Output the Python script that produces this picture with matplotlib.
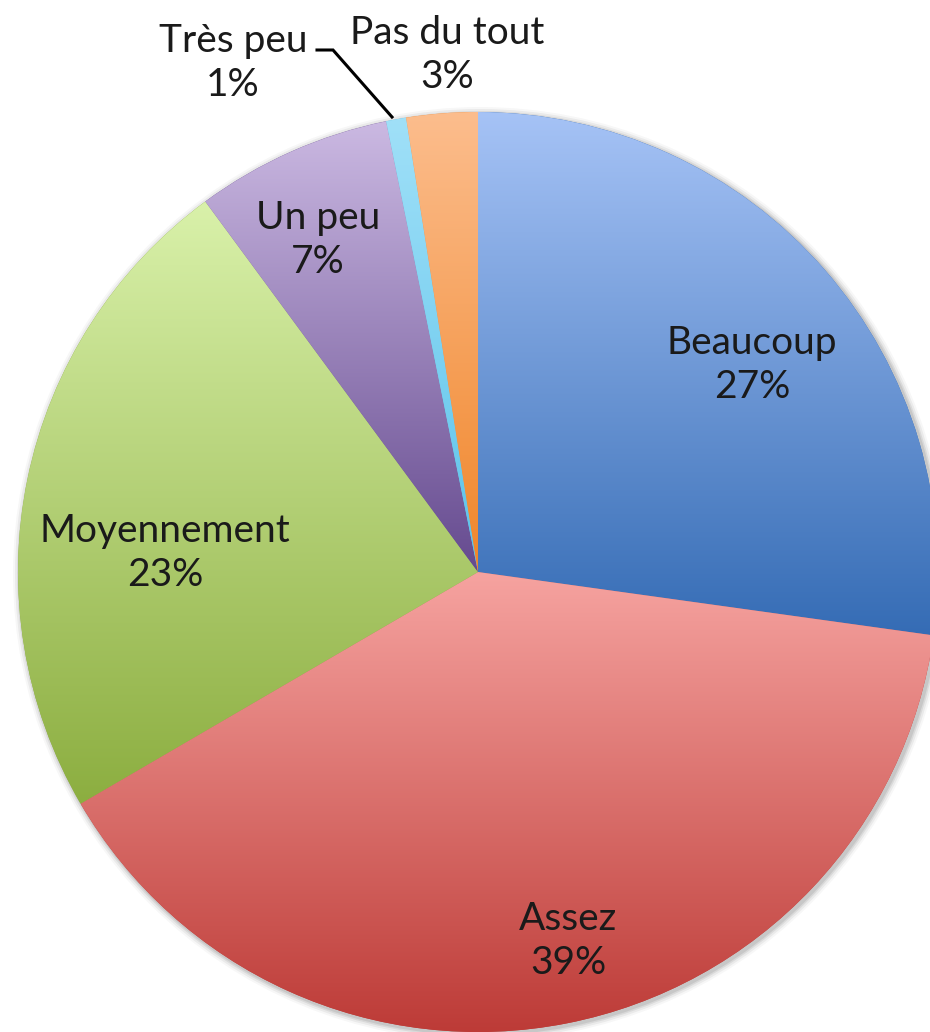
import matplotlib.pyplot as plt
import numpy as np
from matplotlib.colors import LinearSegmentedColormap
from matplotlib.patches import Circle

categories = ["Beaucoup", "Assez", "Moyennement", "Un peu", "Très peu", "Pas du tout"]
values = [27.2, 39.4, 23.3, 6.9, 0.7, 2.5]
pct_labels = ["27%", "39%", "23%", "7%", "1%", "3%"]

# gradient colours (top, bottom) for each slice
top_colors = ["#a6c3f6", "#f6a3a0", "#d9f1aa", "#cbb9e2", "#a0e0f8", "#fcbd8d"]
bottom_colors = ["#356cb5", "#bd3b37", "#8cae40", "#654a8f", "#5cc3ea", "#f0862a"]

# layout, in pixels (image coordinates, y downwards)
W, H = 930, 1032
cx, cy, R = 478, 572, 460
label_pos = [(752, 365), (568, 941), (165, 553), (318, 240), (233, 63), (447, 55)]

fig = plt.figure(figsize=(W / 100, H / 100), dpi=100)
ax = fig.add_axes([0, 0, 1, 1])

# soft shadow round the pie
for dr, a in [(7, 0.03), (5, 0.05), (3, 0.07), (1.5, 0.08)]:
    ax.add_patch(Circle((cx + 2, H - cy - 2), R + dr, color="black", alpha=a, lw=0, zorder=0))

wedges, _ = ax.pie(values, center=(cx, H - cy), radius=R, startangle=90,
                   counterclock=False, wedgeprops=dict(linewidth=0))

grad = np.linspace(0, 1, 256).reshape(-1, 1)
for w, c0, c1 in zip(wedges, top_colors, bottom_colors):
    th = np.radians(np.linspace(w.theta1, w.theta2, 200))
    xs = np.r_[w.center[0], w.center[0] + w.r * np.cos(th)]
    ys = np.r_[w.center[1], w.center[1] + w.r * np.sin(th)]
    cmap = LinearSegmentedColormap.from_list("g", [c1, c0])
    w.set_facecolor(c1)
    im = ax.imshow(grad, cmap=cmap, origin="lower", aspect="auto",
                   extent=[xs.min(), xs.max(), ys.min(), ys.max()], zorder=1.5)
    im.set_clip_path(w)

for (lx, ly), name, p in zip(label_pos, categories, pct_labels):
    ax.text(lx, H - ly, f"{name}\n{p}", ha="center", va="center", fontsize=28,
            family="Lato", color="#1a1a1a", linespacing=1.25, zorder=5)

# leader line for "Très peu"
ax.plot([317, 333, 392], [H - 50, H - 50, H - 117], color="black", lw=2.2,
        solid_joinstyle="miter", zorder=4)

ax.set_xlim(0, W)
ax.set_ylim(0, H)
ax.set_aspect("auto")
ax.axis("off")

fig.savefig("out.png", dpi=100)
